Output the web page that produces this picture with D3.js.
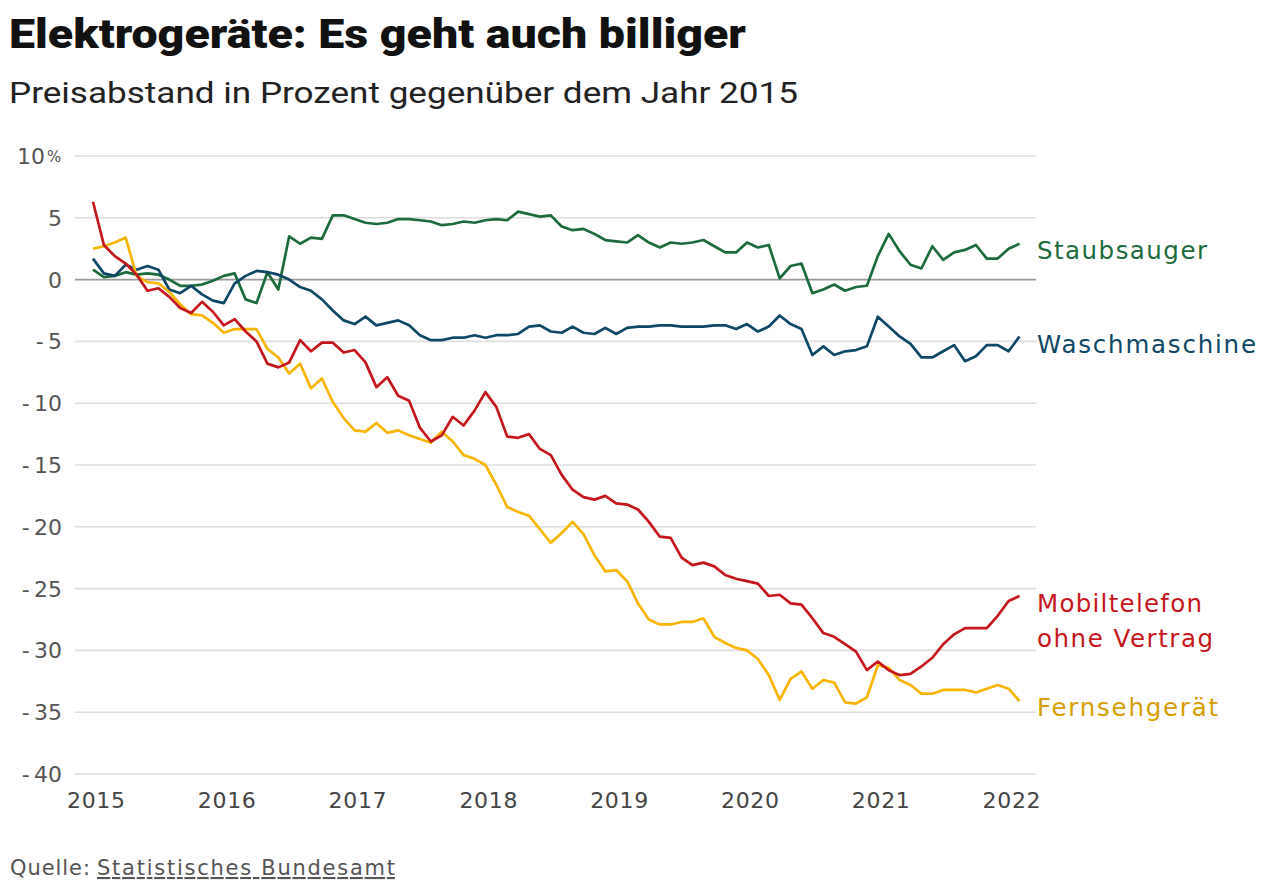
<!DOCTYPE html>
<html><head><meta charset="utf-8">
<script src="https://cdn.jsdelivr.net/npm/d3@7"></script>
<style>
html,body{margin:0;padding:0;background:#fff;}
svg{display:block;}
</style></head>
<body>
<svg id="chart" width="1280" height="894"></svg>
<script>
// ---- data (monthly, Jan 2015 .. Feb 2022) ----
const startYear = 2015;
const monthCount = 86;
const yearTicks = [2015, 2016, 2017, 2018, 2019, 2020, 2021, 2022];
const yTicks = [10, 5, 0, -5, -10, -15, -20, -25, -30, -35, -40];

const staubsauger = [0.8,0.2,0.3,0.6,0.4,0.5,0.4,0.0,-0.5,-0.5,-0.4,-0.1,0.3,0.5,-1.6,-1.9,0.6,-0.8,3.5,2.9,3.4,3.3,5.2,5.2,4.9,4.6,4.5,4.6,4.9,4.9,4.8,4.7,4.4,4.5,4.7,4.6,4.8,4.9,4.8,5.5,5.3,5.1,5.2,4.3,4.0,4.1,3.7,3.2,3.1,3.0,3.6,3.0,2.6,3.0,2.9,3.0,3.2,2.7,2.2,2.2,3.0,2.6,2.8,0.1,1.1,1.3,-1.1,-0.8,-0.4,-0.9,-0.6,-0.5,1.9,3.7,2.3,1.2,0.9,2.7,1.6,2.2,2.4,2.8,1.7,1.7,2.5,2.9];
const waschmaschine = [1.7,0.5,0.3,1.2,0.8,1.1,0.8,-0.8,-1.1,-0.5,-1.2,-1.7,-1.9,-0.3,0.3,0.7,0.6,0.4,0.0,-0.6,-0.9,-1.6,-2.5,-3.3,-3.6,-3.0,-3.7,-3.5,-3.3,-3.7,-4.5,-4.9,-4.9,-4.7,-4.7,-4.5,-4.7,-4.5,-4.5,-4.4,-3.8,-3.7,-4.2,-4.3,-3.8,-4.3,-4.4,-3.9,-4.4,-3.9,-3.8,-3.8,-3.7,-3.7,-3.8,-3.8,-3.8,-3.7,-3.7,-4.0,-3.6,-4.2,-3.8,-2.9,-3.6,-4.0,-6.1,-5.4,-6.1,-5.8,-5.7,-5.4,-3.0,-3.8,-4.6,-5.2,-6.3,-6.3,-5.8,-5.3,-6.6,-6.2,-5.3,-5.3,-5.8,-4.6];
const mobiltelefon = [6.3,2.8,1.9,1.3,0.4,-0.9,-0.7,-1.4,-2.3,-2.7,-1.8,-2.6,-3.7,-3.2,-4.2,-5.0,-6.8,-7.1,-6.7,-4.9,-5.8,-5.1,-5.1,-5.9,-5.7,-6.7,-8.7,-7.9,-9.4,-9.8,-12.0,-13.1,-12.6,-11.1,-11.8,-10.6,-9.1,-10.3,-12.7,-12.8,-12.5,-13.7,-14.2,-15.8,-17.0,-17.6,-17.8,-17.5,-18.1,-18.2,-18.6,-19.6,-20.8,-20.9,-22.5,-23.1,-22.9,-23.2,-23.9,-24.2,-24.4,-24.6,-25.6,-25.5,-26.2,-26.3,-27.4,-28.6,-28.9,-29.5,-30.1,-31.6,-30.9,-31.6,-32.0,-31.9,-31.3,-30.6,-29.5,-28.7,-28.2,-28.2,-28.2,-27.2,-26.0,-25.6];
const fernsehgeraet = [2.5,2.7,3.0,3.4,0.3,-0.2,-0.3,-1.0,-2.0,-2.8,-2.9,-3.5,-4.3,-4.0,-4.0,-4.0,-5.6,-6.3,-7.6,-6.8,-8.8,-8.0,-9.9,-11.2,-12.2,-12.3,-11.6,-12.4,-12.2,-12.6,-12.9,-13.2,-12.3,-13.1,-14.2,-14.5,-15.0,-16.6,-18.4,-18.8,-19.1,-20.2,-21.3,-20.5,-19.6,-20.6,-22.3,-23.6,-23.5,-24.4,-26.2,-27.5,-27.9,-27.9,-27.7,-27.7,-27.4,-28.9,-29.4,-29.8,-30.0,-30.7,-32.0,-34.0,-32.3,-31.7,-33.1,-32.4,-32.6,-34.2,-34.3,-33.8,-31.2,-31.4,-32.4,-32.8,-33.5,-33.5,-33.2,-33.2,-33.2,-33.4,-33.1,-32.8,-33.1,-34.1];

const seriesNames = ["Staubsauger", "Waschmaschine", "Mobiltelefon ohne Vertrag", "Fernsehgerät"];
const seriesValues = [staubsauger, waschmaschine, mobiltelefon, fernsehgeraet];
const lineColors = ["#1c6b3c", "#0f4866", "#c4161c", "#f7b500"];
const labelColors = ["#1c6b3c", "#0f4866", "#c4161c", "#d49e00"];
const labelLines = [["Staubsauger"], ["Waschmaschine"], ["Mobiltelefon", "ohne Vertrag"], ["Fernsehgerät"]];
const labelWidths = [[170], [219], [165, 176], [181]];
const labelY = [259, 353, 612, 716];

// ---- drawing ----
const svg = d3.select("#chart");
const x = d3.scaleLinear().domain([0, monthCount - 1]).range([93, 1019.5]);
const y = d3.scaleLinear().domain([-40, 10]).range([774, 156]);
const gridX0 = 75, gridX1 = 1036;

svg.append("text").attr("x", 9).attr("y", 48)
  .attr("font-family", "Roboto").attr("font-weight", 900).attr("font-size", 41)
  .attr("fill", "#111").attr("textLength", 737).attr("lengthAdjust", "spacingAndGlyphs")
  .text("Elektrogeräte: Es geht auch billiger");

svg.append("text").attr("x", 9).attr("y", 103)
  .attr("font-family", "Roboto").attr("font-size", 29)
  .attr("fill", "#222").attr("textLength", 789).attr("lengthAdjust", "spacingAndGlyphs")
  .text("Preisabstand in Prozent gegenüber dem Jahr 2015");

// grid
const grid = svg.append("g");
grid.selectAll("line").data(yTicks).join("line")
  .attr("x1", gridX0).attr("x2", gridX1)
  .attr("y1", d => y(d)).attr("y2", d => y(d))
  .attr("stroke", d => d === 0 ? "#9a9a9a" : "#dedede")
  .attr("stroke-width", 1.6);

// y labels
const yl = svg.append("g").attr("font-family", "DejaVu Sans").attr("font-size", 22).attr("fill", "#555");
yl.selectAll("text").data(yTicks).join("text")
  .attr("x", d => d === 10 ? 45 : 62)
  .attr("y", d => y(d) + 8)
  .attr("text-anchor", "end")
  .text(d => d < 0 ? "-\u2009" + Math.abs(d) : String(d));
yl.append("text").attr("x", 47).attr("y", y(10) + 6).attr("font-size", 15).text("%");

// x labels
const xl = svg.append("g").attr("font-family", "DejaVu Sans").attr("font-size", 22).attr("fill", "#444");
xl.selectAll("text").data(yearTicks).join("text")
  .attr("x", d => x((d - startYear) * 12) + 3)
  .attr("y", 808)
  .attr("text-anchor", "middle")
  .attr("textLength", 58).attr("lengthAdjust", "spacing")
  .text(d => d);

// lines
const line = d3.line().x((d, i) => x(i)).y(d => y(d)).curve(d3.curveLinear);
const order = [0, 1, 3, 2];
svg.append("g").selectAll("path").data(order).join("path")
  .attr("d", k => line(seriesValues[k]))
  .attr("fill", "none")
  .attr("stroke", k => lineColors[k])
  .attr("stroke-width", 2.7)
  .attr("stroke-linejoin", "round");

// series labels
const lab = svg.append("g").attr("font-family", "DejaVu Sans").attr("font-size", 24.5);
seriesNames.forEach((name, k) => {
  labelLines[k].forEach((ln, j) => {
    lab.append("text").attr("x", 1037).attr("y", labelY[k] + j * 35)
      .attr("fill", labelColors[k])
      .attr("textLength", labelWidths[k][j]).attr("lengthAdjust", "spacing")
      .text(ln);
  });
});

// source
const srcG = svg.append("g").attr("font-family", "DejaVu Sans").attr("font-size", 21).attr("fill", "#555");
srcG.append("text").attr("x", 10).attr("y", 875)
  .attr("textLength", 80).attr("lengthAdjust", "spacing").text("Quelle:");
srcG.append("text").attr("x", 97).attr("y", 875)
  .attr("textLength", 298).attr("lengthAdjust", "spacing")
  .attr("text-decoration", "underline").text("Statistisches Bundesamt");
</script>
</body></html>
